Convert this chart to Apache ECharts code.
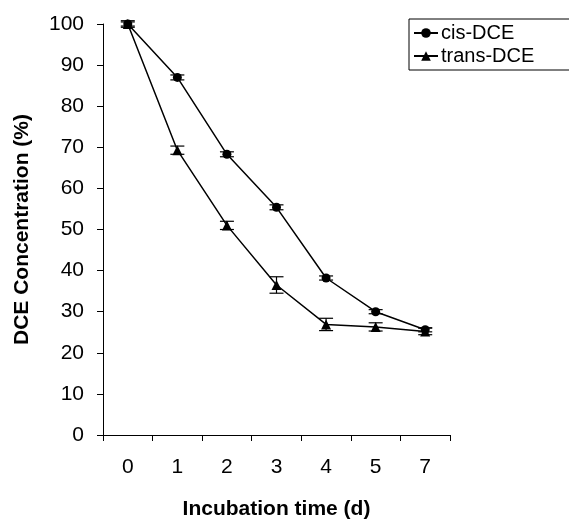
<!DOCTYPE html>
<html>
<head>
<meta charset="utf-8">
<script src="https://cdn.jsdelivr.net/npm/echarts@6/dist/echarts.min.js"></script>
<style>
html, body { margin: 0; padding: 0; background: #fff; }
#main { width: 569px; height: 525px; }
</style>
</head>
<body>
<div id="main"></div>
<script>
var days = ['0', '1', '2', '3', '4', '5', '7'];
var cisDCE = [100, 87.0, 68.3, 55.4, 38.2, 30.0, 25.6];
var cisErr = [0.5, 0.6, 0.6, 0.6, 0.5, 0.5, 0.5];
var transDCE = [100, 69.3, 51.0, 36.5, 26.9, 26.3, 25.2];
var transErr = [0.8, 1.0, 1.0, 2.0, 1.5, 1.0, 0.8];
var yTicks = [0, 10, 20, 30, 40, 50, 60, 70, 80, 90, 100];

var myChart = echarts.init(document.getElementById('main'));

// error bars: [x index, low, high]
function errData(vals, errs) {
    return vals.map(function (v, i) {
        return [i, v - errs[i], v + errs[i]];
    });
}

function renderErr(params, api) {
    var x = api.value(0);
    var lo = api.coord([x, api.value(1)]);
    var hi = api.coord([x, api.value(2)]);
    var w = 7;
    var st = { stroke: '#000', lineWidth: 1.2 };
    return {
        type: 'group',
        children: [
            { type: 'line', shape: { x1: lo[0], y1: lo[1], x2: hi[0], y2: hi[1] }, style: st },
            { type: 'line', shape: { x1: hi[0] - w, y1: hi[1], x2: hi[0] + w, y2: hi[1] }, style: st },
            { type: 'line', shape: { x1: lo[0] - w, y1: lo[1], x2: lo[0] + w, y2: lo[1] }, style: st }
        ]
    };
}

var font = 'Liberation Sans, Arial, sans-serif';

var option = {
    animation: false,
    textStyle: { fontFamily: font },
    grid: { left: 103, right: 119, top: 24, bottom: 89 },
    legend: {
        orient: 'vertical',
        left: 409,
        top: 19,
        padding: [4, 80, 4, 4],
        itemGap: 3,
        itemWidth: 24,
        itemHeight: 12,
        borderColor: '#000',
        borderWidth: 1,
        borderRadius: 0,
        textStyle: { fontSize: 20, color: '#000', fontFamily: font, padding: [0, 0, 0, -2] },
        data: ['cis-DCE', 'trans-DCE']
    },
    xAxis: {
        type: 'category',
        data: days,
        boundaryGap: true,
        name: 'Incubation time (d)',
        nameLocation: 'middle',
        nameGap: 64,
        nameTextStyle: { fontSize: 21, fontWeight: 'bold', color: '#000' },
        axisLine: { lineStyle: { color: '#000', width: 1 } },
        axisTick: { show: true, length: 6, lineStyle: { color: '#000' } },
        axisLabel: { fontSize: 21, color: '#000', margin: 22 },
        splitLine: { show: false }
    },
    yAxis: {
        type: 'value',
        min: 0,
        max: 100,
        interval: 10,
        name: 'DCE Concentration (%)',
        nameLocation: 'middle',
        nameGap: 70,
        nameTextStyle: { fontSize: 21, fontWeight: 'bold', color: '#000' },
        axisLine: { show: true, lineStyle: { color: '#000', width: 1 } },
        axisTick: { show: true, length: 6, lineStyle: { color: '#000' } },
        axisLabel: {
            fontSize: 21, color: '#000', margin: 19,
            formatter: function (v) { return yTicks.indexOf(v) >= 0 ? String(v) : ''; }
        },
        splitLine: { show: false }
    },
    series: [
        {
            name: 'cis-DCE',
            type: 'line',
            data: cisDCE,
            symbol: 'circle',
            symbolSize: 9,
            z: 3,
            lineStyle: { color: '#000', width: 1.5 },
            itemStyle: { color: '#000' }
        },
        {
            name: 'trans-DCE',
            type: 'line',
            data: transDCE,
            symbol: 'triangle',
            symbolSize: 10,
            z: 3,
            lineStyle: { color: '#000', width: 1.5 },
            itemStyle: { color: '#000' }
        },
        {
            type: 'custom',
            name: 'cisErr',
            renderItem: renderErr,
            data: errData(cisDCE, cisErr),
            z: 4
        },
        {
            type: 'custom',
            name: 'transErr',
            renderItem: renderErr,
            data: errData(transDCE, transErr),
            z: 4
        }
    ]
};

myChart.setOption(option);
window.addEventListener('resize', function () {
    myChart.resize();
});
</script>
</body>
</html>
